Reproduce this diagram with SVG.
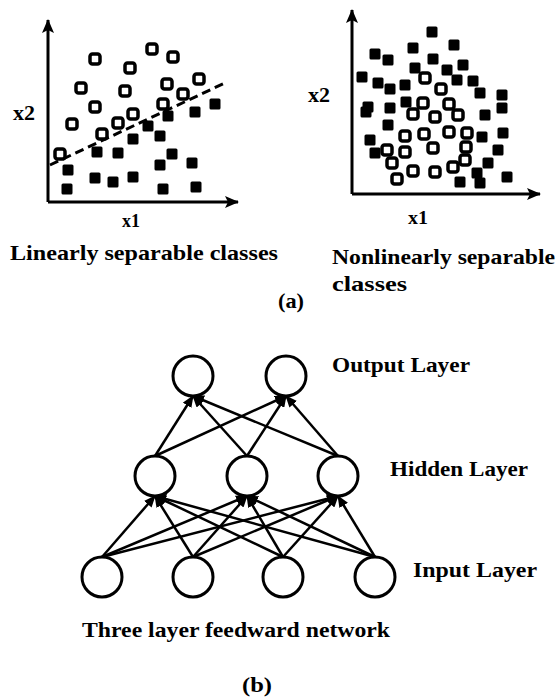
<svg xmlns="http://www.w3.org/2000/svg" width="559" height="698" viewBox="0 0 559 698">
<style>
text{font-family:"Liberation Serif","Times New Roman",serif;font-weight:bold;fill:#000}
.lbl{font-size:22px}
.ax{stroke:#000;stroke-width:3;fill:none}
.o{fill:#fff;stroke:#000;stroke-width:3.5}
.f{fill:#000}
.dash{stroke:#000;stroke-width:3;stroke-dasharray:9 5;fill:none}
.node{fill:#fff;stroke:#000;stroke-width:3}
.edge{stroke:#000;stroke-width:2.5;fill:none;marker-end:url(#ah)}
</style>
<defs>
<marker id="ah" viewBox="0 0 12 10" refX="11" refY="5" markerWidth="12" markerHeight="10" markerUnits="userSpaceOnUse" orient="auto">
<path d="M0,0 L12,5 L0,10 z" fill="#000"/>
</marker>
<marker id="axh" viewBox="0 0 14 12" refX="13" refY="6" markerWidth="14" markerHeight="12" markerUnits="userSpaceOnUse" orient="auto">
<path d="M0,0 L14,6 L0,12 L3,6 z" fill="#000"/>
</marker>
<rect id="os" x="-5" y="-5" width="10" height="10" rx="2.5" class="o"/>
<rect id="fs" x="-5.5" y="-5.5" width="11" height="11" rx="1.5" class="f"/>
</defs>
<rect width="559" height="698" fill="#fff"/>

<g id="plot-linear">
<line class="ax" x1="48" y1="202" x2="48" y2="20" marker-end="url(#axh)"/>
<line class="ax" x1="48" y1="202" x2="238" y2="202" marker-end="url(#axh)"/>
<line class="dash" x1="50" y1="165" x2="227" y2="82"/>
<g>
<use href="#os" x="95" y="59"/><use href="#os" x="152" y="49"/><use href="#os" x="173" y="57"/><use href="#os" x="130" y="68"/>
<use href="#os" x="81" y="88"/><use href="#os" x="125" y="91"/><use href="#os" x="167" y="84"/><use href="#os" x="199" y="79"/>
<use href="#os" x="183" y="94"/><use href="#os" x="95" y="107"/><use href="#os" x="163" y="104"/><use href="#os" x="133" y="114"/>
<use href="#os" x="72" y="124"/><use href="#os" x="118" y="123"/><use href="#os" x="102" y="134"/><use href="#os" x="60" y="154"/>
</g>
<g>
<use href="#fs" x="215" y="104"/><use href="#fs" x="195" y="112"/><use href="#fs" x="168" y="116"/><use href="#fs" x="148" y="126"/>
<use href="#fs" x="160" y="136"/><use href="#fs" x="133" y="139"/><use href="#fs" x="97" y="152"/><use href="#fs" x="118" y="153"/>
<use href="#fs" x="172" y="154"/><use href="#fs" x="160" y="165"/><use href="#fs" x="68" y="170"/><use href="#fs" x="192" y="163"/>
<use href="#fs" x="95" y="178"/><use href="#fs" x="113" y="182"/><use href="#fs" x="133" y="177"/><use href="#fs" x="67" y="189"/>
<use href="#fs" x="163" y="189"/><use href="#fs" x="196" y="187"/>
</g>
<text x="13" y="120" font-size="20" textLength="22" lengthAdjust="spacingAndGlyphs">x2</text>
<text x="122" y="227" font-size="19" textLength="18" lengthAdjust="spacingAndGlyphs">x1</text>
<text class="lbl" x="10" y="260" textLength="268" lengthAdjust="spacingAndGlyphs">Linearly separable classes</text>
</g>

<g id="plot-nonlinear">
<line class="ax" x1="352" y1="194" x2="352" y2="10" marker-end="url(#axh)"/>
<line class="ax" x1="352" y1="194" x2="540" y2="194" marker-end="url(#axh)"/>
<g>
<use href="#fs" x="432" y="32"/><use href="#fs" x="454" y="45"/><use href="#fs" x="413" y="48"/><use href="#fs" x="375" y="54"/>
<use href="#fs" x="388" y="60"/><use href="#fs" x="433" y="59"/><use href="#fs" x="463" y="65"/><use href="#fs" x="362" y="77"/>
<use href="#fs" x="415" y="68"/><use href="#fs" x="447" y="70"/><use href="#fs" x="457" y="80"/><use href="#fs" x="473" y="81"/>
<use href="#fs" x="378" y="83"/><use href="#fs" x="390" y="89"/><use href="#fs" x="405" y="85"/><use href="#fs" x="480" y="93"/>
<use href="#fs" x="502" y="95"/><use href="#fs" x="502" y="108"/><use href="#fs" x="368" y="107"/><use href="#fs" x="390" y="108"/>
<use href="#fs" x="406" y="102"/><use href="#fs" x="485" y="115"/><use href="#fs" x="388" y="125"/><use href="#fs" x="370" y="140"/>
<use href="#fs" x="482" y="137"/><use href="#fs" x="503" y="133"/><use href="#fs" x="498" y="150"/><use href="#fs" x="488" y="163"/>
<use href="#fs" x="507" y="177"/><use href="#fs" x="480" y="183"/><use href="#fs" x="460" y="182"/><use href="#fs" x="477" y="173"/>
<use href="#fs" x="375" y="153"/><use href="#fs" x="366" y="112"/>
</g>
<g>
<use href="#os" x="425" y="78"/><use href="#os" x="441" y="89"/><use href="#os" x="423" y="103"/><use href="#os" x="449" y="104"/>
<use href="#os" x="413" y="114"/><use href="#os" x="435" y="117"/><use href="#os" x="458" y="115"/><use href="#os" x="405" y="136"/>
<use href="#os" x="424" y="134"/><use href="#os" x="449" y="132"/><use href="#os" x="467" y="133"/><use href="#os" x="387" y="150"/>
<use href="#os" x="405" y="152"/><use href="#os" x="433" y="148"/><use href="#os" x="466" y="147"/><use href="#os" x="392" y="163"/>
<use href="#os" x="413" y="171"/><use href="#os" x="435" y="172"/><use href="#os" x="453" y="167"/><use href="#os" x="465" y="160"/>
<use href="#os" x="397" y="179"/>
</g>
<text x="308" y="102" font-size="20" textLength="22" lengthAdjust="spacingAndGlyphs">x2</text>
<text x="408" y="224" font-size="19" textLength="20" lengthAdjust="spacingAndGlyphs">x1</text>
<text class="lbl" x="332" y="264" textLength="223" lengthAdjust="spacingAndGlyphs">Nonlinearly separable</text>
<text class="lbl" x="332" y="291" textLength="75" lengthAdjust="spacingAndGlyphs">classes</text>
</g>
<text class="lbl" x="278" y="308" textLength="26" lengthAdjust="spacingAndGlyphs">(a)</text>

<g id="connectors">
<line class="edge" x1="155" y1="456" x2="193" y2="396"/>
<line class="edge" x1="155" y1="456" x2="286" y2="396"/>
<line class="edge" x1="247" y1="456" x2="193" y2="396"/>
<line class="edge" x1="247" y1="456" x2="286" y2="396"/>
<line class="edge" x1="338" y1="456" x2="193" y2="396"/>
<line class="edge" x1="338" y1="456" x2="286" y2="396"/>
<line class="edge" x1="102" y1="557" x2="155" y2="496"/>
<line class="edge" x1="102" y1="557" x2="247" y2="496"/>
<line class="edge" x1="102" y1="557" x2="338" y2="496"/>
<line class="edge" x1="193" y1="557" x2="155" y2="496"/>
<line class="edge" x1="193" y1="557" x2="247" y2="496"/>
<line class="edge" x1="193" y1="557" x2="338" y2="496"/>
<line class="edge" x1="283" y1="557" x2="155" y2="496"/>
<line class="edge" x1="283" y1="557" x2="247" y2="496"/>
<line class="edge" x1="283" y1="557" x2="338" y2="496"/>
<line class="edge" x1="375" y1="557" x2="155" y2="496"/>
<line class="edge" x1="375" y1="557" x2="247" y2="496"/>
<line class="edge" x1="375" y1="557" x2="338" y2="496"/>
</g>

<g id="out1"><circle class="node" cx="193" cy="376" r="20"/></g>
<g id="out2"><circle class="node" cx="286" cy="376" r="20"/></g>
<g id="hid1"><circle class="node" cx="155" cy="476" r="20"/></g>
<g id="hid2"><circle class="node" cx="247" cy="476" r="20"/></g>
<g id="hid3"><circle class="node" cx="338" cy="476" r="20"/></g>
<g id="in1"><circle class="node" cx="102" cy="577" r="20"/></g>
<g id="in2"><circle class="node" cx="193" cy="577" r="20"/></g>
<g id="in3"><circle class="node" cx="283" cy="577" r="20"/></g>
<g id="in4"><circle class="node" cx="375" cy="577" r="20"/></g>

<text class="lbl" x="332" y="372" textLength="138" lengthAdjust="spacingAndGlyphs">Output Layer</text>
<text class="lbl" x="390" y="476" textLength="138" lengthAdjust="spacingAndGlyphs">Hidden Layer</text>
<text class="lbl" x="413" y="577" textLength="124" lengthAdjust="spacingAndGlyphs">Input Layer</text>
<text class="lbl" x="82" y="637" textLength="308" lengthAdjust="spacingAndGlyphs">Three layer feedward network</text>
<text class="lbl" x="242" y="692" textLength="30" lengthAdjust="spacingAndGlyphs">(b)</text>
</svg>
